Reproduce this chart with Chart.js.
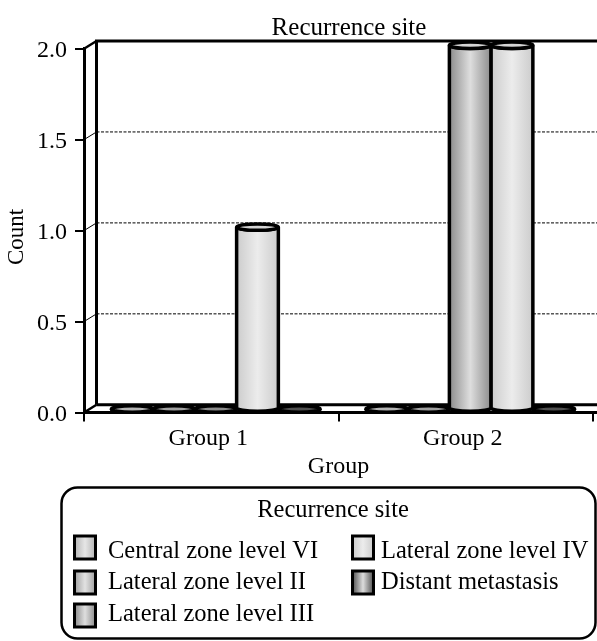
<!DOCTYPE html>
<html>
<head>
<meta charset="utf-8">
<style>
  html, body { margin: 0; padding: 0; background: #fff; }
  #wrap { width: 597px; height: 641px; }
</style>
<script src="https://cdn.jsdelivr.net/npm/chart.js@4"></script>
</head>
<body>
<div id="wrap"><canvas id="chart" width="597" height="641"></canvas></div>
<script>
const categories = ['Group 1', 'Group 2'];
const seriesNames = ['Central zone level VI', 'Lateral zone level II', 'Lateral zone level III', 'Lateral zone level IV', 'Distant metastasis'];
const centralVI = [0, 0];
const lateralII = [0, 0];
const lateralIII = [0, 2];
const lateralIV = [1, 2];
const distant = [0, 0];
const seriesValues = [centralVI, lateralII, lateralIII, lateralIV, distant];

// edge / centre grey of each cylinder
const shades = [['#b4b4b4', '#e6e6e6'], ['#a0a0a0', '#e2e2e2'], ['#8c8c8c', '#dedede'], ['#cccccc', '#ececec'], ['#505050', '#dcdcdc']];

const FONT = '"Liberation Serif", serif';
const DEPTH_X = 12.5, DEPTH_Y = 7.7;

function cylinderFill(ctx, left, right, shade) {
  const g = ctx.createLinearGradient(left, 0, right, 0);
  g.addColorStop(0, shade[0]);
  g.addColorStop(0.5, shade[1]);
  g.addColorStop(1, shade[0]);
  return g;
}

// back wall, floor and dashed grid lines
const wallPlugin = {
  id: 'wall',
  beforeDatasetsDraw(chart) {
    const { ctx, chartArea: a, scales: { y } } = chart;
    ctx.save();
    ctx.strokeStyle = '#000';
    ctx.lineWidth = 3;
    ctx.beginPath();
    ctx.moveTo(a.left + DEPTH_X, a.bottom - DEPTH_Y);
    ctx.lineTo(a.left + DEPTH_X, a.top - DEPTH_Y);
    ctx.lineTo(597, a.top - DEPTH_Y);
    ctx.moveTo(a.left + DEPTH_X, a.bottom - DEPTH_Y);
    ctx.lineTo(597, a.bottom - DEPTH_Y);
    ctx.moveTo(a.right, a.bottom);
    ctx.lineTo(597, a.bottom);
    ctx.stroke();
    y.ticks.forEach(t => {
      const py = y.getPixelForValue(t.value);
      ctx.lineWidth = (t.value === 0 || t.value === 2) ? 2.5 : 1;
      ctx.setLineDash([]);
      ctx.beginPath();
      ctx.moveTo(a.left, py);
      ctx.lineTo(a.left + DEPTH_X, py - DEPTH_Y);
      ctx.stroke();
      if (t.value !== 0 && t.value !== 2) {
        ctx.setLineDash([3, 1.5]);
        ctx.beginPath();
        ctx.moveTo(a.left + DEPTH_X, py - DEPTH_Y);
        ctx.lineTo(597, py - DEPTH_Y);
        ctx.stroke();
      }
    });
    ctx.restore();
  }
};

// bars are drawn as cylinders from the positions of the bar elements
const cylinderPlugin = {
  id: 'cylinder',
  afterDatasetsDraw(chart) {
    const { ctx } = chart;
    const ry = 3.2, dx = 4.5, dy = -3.5;
    categories.forEach((c, j) => {
      seriesValues.forEach((vals, i) => {
        const el = chart.getDatasetMeta(i).data[j];
        const cx = el.x + dx, rx = el.width / 2;
        const top = el.y + dy, bottom = el.base + dy;
        const left = cx - rx, right = cx + rx;
        ctx.save();
        ctx.strokeStyle = '#000';
        ctx.fillStyle = cylinderFill(ctx, left, right, shades[i]);
        ctx.beginPath();
        ctx.moveTo(left, top);
        ctx.lineTo(left, bottom);
        ctx.ellipse(cx, bottom, rx, ry, 0, Math.PI, 0, true);
        ctx.lineTo(right, top);
        ctx.ellipse(cx, top, rx, ry, 0, 0, Math.PI, false);
        ctx.closePath();
        ctx.fill();
        ctx.lineWidth = 3.5;
        ctx.stroke();
        ctx.beginPath();
        ctx.ellipse(cx, top, rx, ry, 0, 0, Math.PI * 2);
        ctx.fillStyle = vals[j] === 0 ? shades[i][0] : '#d4d4d4';
        ctx.fill();
        ctx.stroke();
        ctx.restore();
      });
    });
  }
};

// chart title and y axis title sit off centre in the picture
const textPlugin = {
  id: 'offCentreText',
  afterDraw(chart) {
    const { ctx } = chart;
    ctx.save();
    ctx.fillStyle = '#000';
    ctx.textAlign = 'center';
    ctx.textBaseline = 'middle';
    ctx.font = '25px ' + FONT;
    ctx.fillText('Recurrence site', 349, 28);
    ctx.translate(17, 237);
    ctx.rotate(-Math.PI / 2);
    ctx.font = '23px ' + FONT;
    ctx.fillText('Count', 0, 0);
    ctx.restore();
  }
};

// legend box under the chart, two columns
const legendPlugin = {
  id: 'boxLegend',
  afterDraw(chart) {
    const { ctx } = chart;
    const slots = [[74.5, 536, 108, 552], [74.5, 571, 108, 583], [74.5, 604, 108, 615], [352.5, 536, 381, 552], [352.5, 571, 381, 583]];
    ctx.save();
    ctx.strokeStyle = '#000';
    ctx.lineWidth = 2.5;
    ctx.beginPath();
    ctx.roundRect(61.5, 487.5, 534, 151, 16);
    ctx.stroke();
    ctx.fillStyle = '#000';
    ctx.font = '24.5px ' + FONT;
    ctx.textAlign = 'center';
    ctx.textBaseline = 'middle';
    ctx.fillText('Recurrence site', 333, 511);
    ctx.textAlign = 'left';
    seriesNames.forEach((name, i) => {
      const [bx, by, tx, ty] = slots[i];
      ctx.fillStyle = cylinderFill(ctx, bx, bx + 21, shades[i]);
      ctx.fillRect(bx, by, 21, 23);
      ctx.lineWidth = 3;
      ctx.strokeRect(bx, by, 21, 23);
      ctx.fillStyle = '#000';
      ctx.fillText(name, tx, ty);
    });
    ctx.restore();
  }
};

new Chart(document.getElementById('chart'), {
  type: 'bar',
  data: {
    labels: categories,
    datasets: seriesNames.map((name, i) => ({
      label: name,
      data: seriesValues[i],
      backgroundColor: 'transparent',
      borderWidth: 0,
      barPercentage: 1,
      categoryPercentage: 0.82
    }))
  },
  options: {
    responsive: false,
    animation: false,
    layout: { padding: { left: 0, right: 4, top: 48.7, bottom: 160 } },
    plugins: {
      legend: { display: false },
      tooltip: { enabled: false },
      title: { display: false }
    },
    scales: {
      x: {
        grid: { drawOnChartArea: false, color: '#000', lineWidth: 2, tickLength: 9 },
        border: { color: '#000', width: 3 },
        ticks: { color: '#000', font: { family: FONT, size: 24 }, padding: 3, maxRotation: 0, labelOffset: -3 },
        title: { display: true, text: 'Group', color: '#000', font: { family: FONT, size: 24 }, padding: 0 },
        afterFit(s) { s.height = 68.5; }
      },
      y: {
        min: 0,
        max: 2,
        grid: { drawOnChartArea: false, color: '#000', lineWidth: 2, tickLength: 9 },
        border: { color: '#000', width: 3 },
        ticks: { stepSize: 0.5, color: '#000', font: { family: FONT, size: 24 }, padding: 8, labelOffset: 2.5, callback: v => v.toFixed(1) },
        afterFit(s) { s.width = 84; }
      }
    }
  },
  plugins: [wallPlugin, cylinderPlugin, textPlugin, legendPlugin]
});
</script>
</body>
</html>
